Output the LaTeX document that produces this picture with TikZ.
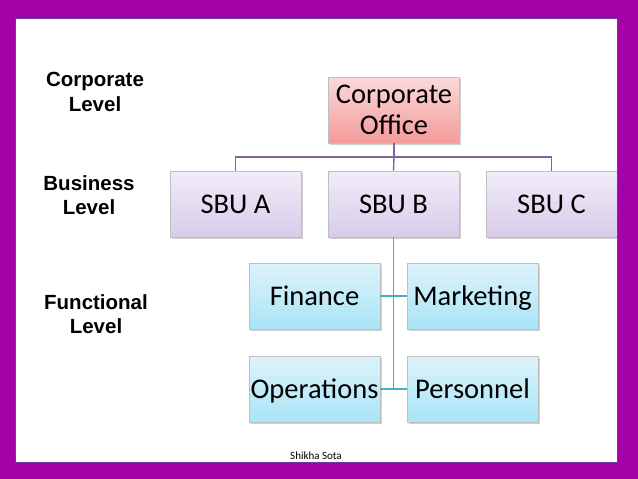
\documentclass[tikz,border=0pt]{standalone}
\usepackage{fontspec}
\setmainfont{Carlito}
\newfontfamily\arialfont{Liberation Sans}
\usetikzlibrary{shadows}
\definecolor{frame}{HTML}{A202A8}
\definecolor{framein}{HTML}{6A3C9A}
\definecolor{purpline}{HTML}{8064A2}
\definecolor{tealline}{HTML}{4BACC6}
\definecolor{corptop}{HTML}{FBDADA}
\definecolor{corpbot}{HTML}{F49A9A}
\definecolor{sbutop}{HTML}{F1ECF8}
\definecolor{sbubot}{HTML}{D8CCEA}
\definecolor{functop}{HTML}{DDF3FA}
\definecolor{funcbot}{HTML}{A9E4F7}
\tikzset{
  box/.style={draw=black!25, line width=0.6pt, minimum width=131pt, minimum height=66pt,
    inner sep=0pt, align=center, font=\fontsize{28.5}{31}\selectfont,
    drop shadow={shadow xshift=1.5pt, shadow yshift=-1.5pt, opacity=0.3, fill=black!60}},
  oneline/.style={text height=22.5pt, text depth=3pt},
  corpbox/.style={box, top color=corptop, bottom color=corpbot},
  sbubox/.style={box, oneline, top color=sbutop, bottom color=sbubot},
  funcbox/.style={box, oneline, top color=functop, bottom color=funcbot},
  lvl/.style={font=\arialfont\bfseries\fontsize{20.5}{24.5}\selectfont, align=center, inner sep=0pt},
  pline/.style={draw=purpline, line width=1.4pt},
  tline/.style={draw=tealline, line width=1.4pt}
}
\begin{document}
\begin{tikzpicture}[x=1pt,y=-1pt]
\useasboundingbox (0,0) rectangle (638,479);
\fill[white] (0,0) rectangle (638,479);
% nodes
\node[corpbox] (co) at (394,110) {\raisebox{-2pt}{Corporate}\\\raisebox{-2pt}{Office}};
\node[sbubox] (sa) at (235.5,204) {SBU A};
\node[sbubox] (sb) at (393.5,204) {SBU B};
\node[sbubox] (sc) at (551.5,204) {SBU C};
\node[funcbox] (fi) at (314.5,296) {Finance};
\node[funcbox] (ma) at (472.5,296) {Marketing};
\node[funcbox] (op) at (314.5,389) {Operations};
\node[funcbox] (pe) at (472.5,389) {Personnel};
% connectors
\coordinate (bus) at (394,157);
\draw[pline] (co.south) -- (bus);
\draw[pline] (sa.north) |- (bus) -| (sc.north);
\draw[pline] (bus) -- (sb.north);
\coordinate (vend) at (393.5,389);
\draw[tline] (sb.south) -- (vend);
\draw[tline] (fi.east) -- (ma.west);
\draw[tline] (op.east) -- (pe.west);
% level labels
\node[lvl] (l1) at (95,92) {Corporate\\Level};
\node[lvl] (l2) at (89,195) {Business\\Level};
\node[lvl] (l3) at (96,314) {Functional\\Level};
\node[font=\fontsize{11}{13}\selectfont, inner sep=0pt] (auth) at (316,456) {Shikha Sota};
% frame
\fill[frame, even odd rule] (0,0) rectangle (638,479) (15,18) rectangle (617,462);
\draw[framein, line width=0.8pt] (15,18) rectangle (617,462);
\end{tikzpicture}
\end{document}
